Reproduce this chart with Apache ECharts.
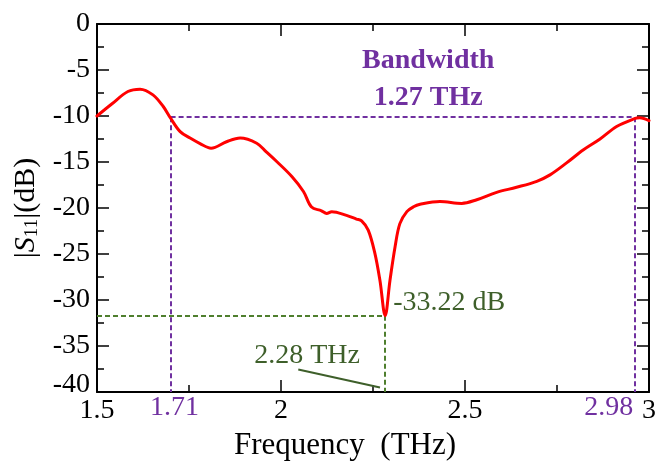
<!DOCTYPE html>
<html><head><meta charset="utf-8">
<script src="https://cdn.jsdelivr.net/npm/echarts@6/dist/echarts.min.js"></script>
<style>html,body{margin:0;padding:0;background:#fff}#c{width:655px;height:461px}</style>
</head><body><div id="c"></div>
<script>
// ---- data ----
const freq = [1.50,1.54,1.584,1.617,1.652,1.68,1.70,1.726,1.753,1.78,1.81,1.852,1.889,1.934,1.96,1.989,2.03,2.061,2.083,2.11,2.124,2.138,2.178,2.205,2.219,2.237,2.255,2.269,2.283,2.296,2.31,2.323,2.342,2.36,2.378,2.432,2.491,2.532,2.586,2.64,2.695,2.731,2.776,2.821,2.867,2.912,2.957,2.975,3.0];
const s11  = [-10.0,-8.7,-7.34,-7.08,-7.7,-8.97,-10.24,-11.7,-12.4,-13.0,-13.5,-12.8,-12.4,-12.96,-13.9,-14.97,-16.6,-18.2,-19.9,-20.3,-20.6,-20.4,-20.8,-21.2,-21.4,-22.4,-24.9,-27.9,-31.7,-27.9,-24.2,-21.7,-20.4,-19.87,-19.6,-19.3,-19.5,-19.1,-18.3,-17.75,-17.1,-16.4,-15.1,-13.7,-12.5,-11.15,-10.35,-10.2,-10.5];
const xRange = [1.5, 3.0];
const yRange = [-40, 0];
const bandEdges = [1.70, 2.96];
const bandLevel = -10.13;
const bandEdgeLabels = ['1.71', '2.98'];
const bandText = ['Bandwidth', '1.27 THz'];
const dipFreq = 2.283;
const dipLevel = -31.7;
const dipLabels = ['-33.22 dB', '2.28 THz'];
const pointerLine = [[2.047, -37.55], [2.269, -39.5]];

const FONT = '"Liberation Serif","Times New Roman",serif';
const PURPLE = '#7030A0';
const GREEN_LINE = '#4F7F2E';
const GREEN_TEXT = '#3E5F2A';

const chart = echarts.init(document.getElementById('c'), null, {renderer: 'canvas'});

const axisCommon = {
  type: 'value',
  axisLine: {show: true, onZero: false, lineStyle: {color: '#000', width: 2}},
  axisTick: {show: true, inside: true, length: 12, lineStyle: {color: '#000', width: 1.5}},
  minorTick: {show: true, splitNumber: 2, length: 7, lineStyle: {color: '#000', width: 1.5}},
  splitLine: {show: false}
};

const purpleStyle = {color: PURPLE, width: 2, type: [5, 3]};
const greenStyle = {color: GREEN_LINE, width: 2, type: [5, 3]};

chart.setOption({
  animation: false,
  backgroundColor: '#fff',
  grid: {left: 97, right: 6, top: 24, bottom: 69, containLabel: false, outerBoundsMode: 'none'},
  xAxis: [
    Object.assign({}, axisCommon, {
      min: xRange[0], max: xRange[1], interval: 0.5, position: 'bottom',
      name: 'Frequency  (THz)', nameLocation: 'middle', nameGap: 37,
      nameTextStyle: {fontFamily: FONT, fontSize: 31, color: '#000', padding: [0, 56, 0, 0]},
      axisLabel: {show: true, margin: 5, fontFamily: FONT, fontSize: 28, color: '#000'}
    }),
    Object.assign({}, axisCommon, {
      min: xRange[0], max: xRange[1], interval: 0.5, position: 'top',
      axisLabel: {show: false}
    })
  ],
  yAxis: [
    Object.assign({}, axisCommon, {
      min: yRange[0], max: yRange[1], interval: 5, position: 'left',
      name: '|{i|S}{s|11}|(dB)', nameLocation: 'middle', nameGap: 52, nameRotate: 90,
      nameTextStyle: {fontFamily: FONT, fontSize: 30, color: '#000',
        rich: {
          i: {fontFamily: FONT, fontSize: 30, fontStyle: 'italic', color: '#000'},
          s: {fontFamily: FONT, fontSize: 19, color: '#000', verticalAlign: 'bottom', padding: [12, 0, 0, 0]}
        }},
      axisLabel: {show: true, margin: 7, fontFamily: FONT, fontSize: 28, color: '#000',
        formatter: function (v) { return v === yRange[0] ? '{up|' + v + '}' : String(v); },
        rich: {up: {fontFamily: FONT, fontSize: 28, color: '#000', padding: [0, 0, 14, 0]}}}
    }),
    Object.assign({}, axisCommon, {
      min: yRange[0], max: yRange[1], interval: 5, position: 'right',
      axisLabel: {show: false}
    })
  ],
  series: [{
    type: 'line',
    xAxisIndex: 0, yAxisIndex: 0,
    data: freq.map((f, i) => [f, s11[i]]),
    showSymbol: false,
    smooth: 0.35,
    lineStyle: {color: '#FF0000', width: 3, join: 'round', cap: 'round'},
    z: 5,
    markLine: {
      silent: true, symbol: 'none', animation: false,
      label: {show: false},
      data: [
        [{coord: [bandEdges[0], bandLevel], lineStyle: purpleStyle}, {coord: [bandEdges[1], bandLevel]}],
        [{coord: [bandEdges[0], bandLevel], lineStyle: purpleStyle}, {coord: [bandEdges[0], yRange[0]]}],
        [{coord: [bandEdges[1], bandLevel], lineStyle: purpleStyle}, {coord: [bandEdges[1], yRange[0]]}],
        [{coord: [xRange[0], dipLevel], lineStyle: greenStyle}, {coord: [dipFreq, dipLevel]}],
        [{coord: [dipFreq, dipLevel], lineStyle: greenStyle}, {coord: [dipFreq, yRange[0]]}],
        [{coord: pointerLine[0], lineStyle: {color: GREEN_TEXT, width: 2, type: 'solid'}}, {coord: pointerLine[1]}]
      ]
    }
  }]
});

function px(p) { return chart.convertToPixel({gridIndex: 0}, p); }
const yBottom = px([xRange[0], yRange[0]])[1];
const bwX = px([2.40, 0])[0];
const dipPx = px([dipFreq, dipLevel]);
const l1 = px([bandEdges[0], yRange[0]]);
const l2 = px([bandEdges[1], yRange[0]]);
const t228 = px([1.927, -36.0]);

function txt(x, y, s, color, align, extra) {
  return {type: 'text', x: x, y: y, z: 50, silent: true,
    style: Object.assign({text: s, fill: color, font: '28px ' + FONT, align: align, verticalAlign: 'middle'}, extra || {})};
}

chart.setOption({
  graphic: [
    txt(bwX, px([0, -4.0])[1], bandText[0], PURPLE, 'center', {font: 'bold 28px ' + FONT}),
    txt(bwX, px([0, -8.0])[1], bandText[1], PURPLE, 'center', {font: 'bold 28px ' + FONT}),
    txt(dipPx[0] + 8, dipPx[1] - 13, dipLabels[0], GREEN_TEXT, 'left'),
    txt(t228[0], t228[1], dipLabels[1], GREEN_TEXT, 'left'),
    txt(l1[0] + 4, yBottom + 16, bandEdgeLabels[0], PURPLE, 'center'),
    txt(l2[0] - 1, yBottom + 16, bandEdgeLabels[1], PURPLE, 'right')
  ]
});
</script>
</body></html>
